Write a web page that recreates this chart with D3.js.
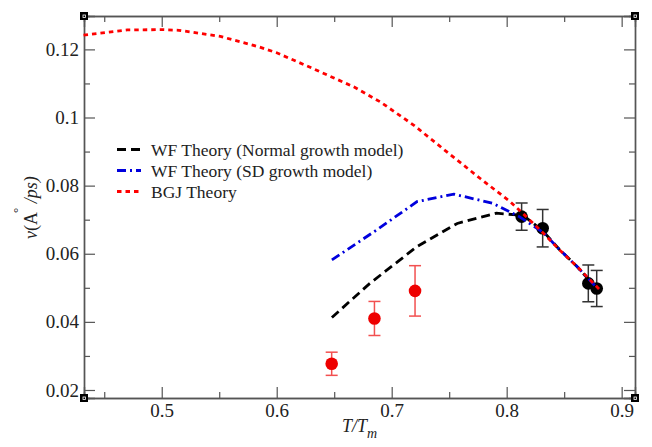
<!DOCTYPE html>
<html>
<head>
<meta charset="utf-8">
<script src="https://cdn.jsdelivr.net/npm/d3@7"></script>
<style>
  body { margin: 0; background: #fff; }
  svg { display: block; font-family: "Liberation Serif", "DejaVu Serif", serif; }
</style>
</head>
<body>
<svg width="652" height="447"></svg>
<script>
// theory curves (T/Tm, velocity)
var bgjX = [0.432, 0.47, 0.5, 0.515, 0.551, 0.585, 0.6, 0.632, 0.667, 0.69, 0.719, 0.748, 0.777, 0.803, 0.817, 0.832, 0.846, 0.861, 0.881];
var bgjY = [0.1242, 0.1257, 0.1258, 0.1256, 0.1238, 0.1207, 0.119, 0.1143, 0.109, 0.1046, 0.0978, 0.0899, 0.0821, 0.0753, 0.0709, 0.066, 0.0611, 0.0563, 0.0494];

var normalX = [0.648, 0.681, 0.722, 0.757, 0.791, 0.809, 0.817, 0.832, 0.846, 0.861, 0.877];
var normalY = [0.0413, 0.0513, 0.0621, 0.0689, 0.0719, 0.0714, 0.0706, 0.0665, 0.0612, 0.0563, 0.0503];

var sdX = [0.648, 0.687, 0.722, 0.754, 0.788, 0.811, 0.832, 0.846, 0.861, 0.879];
var sdY = [0.0582, 0.067, 0.0753, 0.0775, 0.0748, 0.0709, 0.0662, 0.0612, 0.0563, 0.0498];

// simulation points with error bars
var blackX = [0.813, 0.8313, 0.871, 0.8783];
var blackY = [0.0709, 0.0675, 0.0513, 0.0498];
var blackErr = [0.004, 0.0055, 0.0054, 0.0053];

var redX = [0.6478, 0.685, 0.7203];
var redY = [0.0277, 0.041, 0.0491];
var redErr = [0.0034, 0.005, 0.0074];

var xMajor = [0.5, 0.6, 0.7, 0.8, 0.9];
var xMinor = [0.45, 0.55, 0.65, 0.75, 0.85];
var yMajor = [0.02, 0.04, 0.06, 0.08, 0.1, 0.12];
var yMinor = [0.03, 0.05, 0.07, 0.09, 0.11];

var legendNames = ["WF Theory (Normal growth model)", "WF Theory (SD growth model)", "BGJ Theory"];

var svg = d3.select("svg");
var pLeft = 84, pRight = 635, pTop = 16, pBottom = 398;

var x = d3.scaleLinear().domain([0.4324, 0.9116]).range([pLeft, pRight]);
var y = d3.scaleLinear().domain([0.01765, 0.1298]).range([pBottom, pTop]);

var axisColor = "#555";

function styleAxis(g) {
  g.select(".domain").attr("stroke", axisColor).attr("stroke-width", 1.4);
  g.selectAll(".tick line").attr("stroke", axisColor).attr("stroke-width", 1.2);
  g.selectAll("text").attr("fill", "#222").attr("font-size", 19)
    .attr("font-family", "Liberation Serif, DejaVu Serif, serif");
}

// bottom axis
svg.append("g").attr("transform", "translate(0," + pBottom + ")")
  .call(d3.axisBottom(x).tickValues(xMajor).tickSize(-11).tickPadding(6).tickFormat(d3.format("~g")))
  .call(styleAxis);
svg.append("g").attr("transform", "translate(0," + pBottom + ")")
  .call(d3.axisBottom(x).tickValues(xMinor).tickSize(-6).tickFormat(""))
  .call(styleAxis);
// top axis
svg.append("g").attr("transform", "translate(0," + pTop + ")")
  .call(d3.axisTop(x).tickValues(xMajor).tickSize(-11).tickFormat(""))
  .call(styleAxis);
svg.append("g").attr("transform", "translate(0," + pTop + ")")
  .call(d3.axisTop(x).tickValues(xMinor).tickSize(-6).tickFormat(""))
  .call(styleAxis);
// left axis
svg.append("g").attr("transform", "translate(" + pLeft + ",0)")
  .call(d3.axisLeft(y).tickValues(yMajor).tickSize(-11).tickPadding(5).tickFormat(d3.format("~g")))
  .call(styleAxis);
svg.append("g").attr("transform", "translate(" + pLeft + ",0)")
  .call(d3.axisLeft(y).tickValues(yMinor).tickSize(-6).tickFormat(""))
  .call(styleAxis);
// right axis
svg.append("g").attr("transform", "translate(" + pRight + ",0)")
  .call(d3.axisRight(y).tickValues(yMajor).tickSize(-11).tickFormat(""))
  .call(styleAxis);
svg.append("g").attr("transform", "translate(" + pRight + ",0)")
  .call(d3.axisRight(y).tickValues(yMinor).tickSize(-6).tickFormat(""))
  .call(styleAxis);

// corner handles
[[pLeft, pTop], [pRight, pTop], [pLeft, pBottom], [pRight, pBottom]].forEach(function(c) {
  svg.append("rect").attr("x", c[0] - 4).attr("y", c[1] - 4)
    .attr("width", 8).attr("height", 8).attr("fill", "#000");
  svg.append("rect").attr("x", c[0] - 1).attr("y", c[1] - 1)
    .attr("width", 2.5).attr("height", 2.5).attr("fill", "none")
    .attr("stroke", "#fff").attr("stroke-width", 0.8);
});

// error bars
function errorBars(xs, ys, es, color, cls) {
  var g = svg.append("g").attr("class", cls);
  var d = xs.map(function(v, i) { return { x: v, y: ys[i], e: es[i] }; });
  g.selectAll(".v").data(d).enter().append("line")
    .attr("x1", function(d) { return x(d.x); }).attr("x2", function(d) { return x(d.x); })
    .attr("y1", function(d) { return y(d.y - d.e); }).attr("y2", function(d) { return y(d.y + d.e); })
    .attr("stroke", color).attr("stroke-width", 1.5);
  [-1, 1].forEach(function(s) {
    g.selectAll(".c" + s).data(d).enter().append("line")
      .attr("x1", function(d) { return x(d.x) - 6; }).attr("x2", function(d) { return x(d.x) + 6; })
      .attr("y1", function(d) { return y(d.y + s * d.e); }).attr("y2", function(d) { return y(d.y + s * d.e); })
      .attr("stroke", color).attr("stroke-width", 1.5);
  });
  g.selectAll("circle").data(d).enter().append("circle")
    .attr("cx", function(d) { return x(d.x); })
    .attr("cy", function(d) { return y(d.y); })
    .attr("r", 6.3)
    .attr("fill", cls == "red" ? "#ee0000" : "#000");
}

errorBars(redX, redY, redErr, "#f25050", "red");
errorBars(blackX, blackY, blackErr, "#333", "black");

// theory lines
var line = d3.line().x(function(d) { return x(d[0]); }).y(function(d) { return y(d[1]); });

function zip(a, b) { return a.map(function(v, i) { return [v, b[i]]; }); }

var series = [
  { pts: zip(normalX, normalY), color: "#000", dash: "9,5" },
  { pts: zip(sdX, sdY), color: "#0000dd", dash: "9,4,2,4" },
  { pts: zip(bgjX, bgjY), color: "#ff0000", dash: "4.5,4" }
];

series.forEach(function(s) {
  svg.append("path")
    .attr("d", line(s.pts))
    .attr("fill", "none")
    .attr("stroke", s.color)
    .attr("stroke-width", 2.8)
    .attr("stroke-dasharray", s.dash);
});

// legend
var legend = svg.append("g");
series.forEach(function(s, i) {
  var ly = 149.5 + i * 21;
  legend.append("line")
    .attr("x1", 117).attr("x2", 141).attr("y1", ly).attr("y2", ly)
    .attr("stroke", s.color).attr("stroke-width", 2.8)
    .attr("stroke-dasharray", s.dash);
  legend.append("text")
    .attr("x", 151).attr("y", ly + 6)
    .attr("font-size", 17.5).attr("fill", "#222")
    .text(legendNames[i]);
});

// axis titles
var xt = svg.append("text")
  .attr("x", 342).attr("y", 432)
  .attr("font-size", 18).attr("font-style", "italic").attr("fill", "#222");
xt.append("tspan").text("T/T");
xt.append("tspan").attr("dy", 6).attr("font-size", 14).text("m");

var yt = svg.append("text")
  .attr("transform", "translate(37,239) rotate(-90)")
  .attr("font-size", 18).attr("fill", "#222");
yt.append("tspan").attr("font-style", "italic").text("v");
yt.append("tspan").text("(A");
yt.append("tspan").attr("dy", -15).attr("dx", -1).attr("font-size", 13).text("°");
yt.append("tspan").attr("dy", 15).attr("font-style", "italic").text(" /ps)");
</script>
</body>
</html>
